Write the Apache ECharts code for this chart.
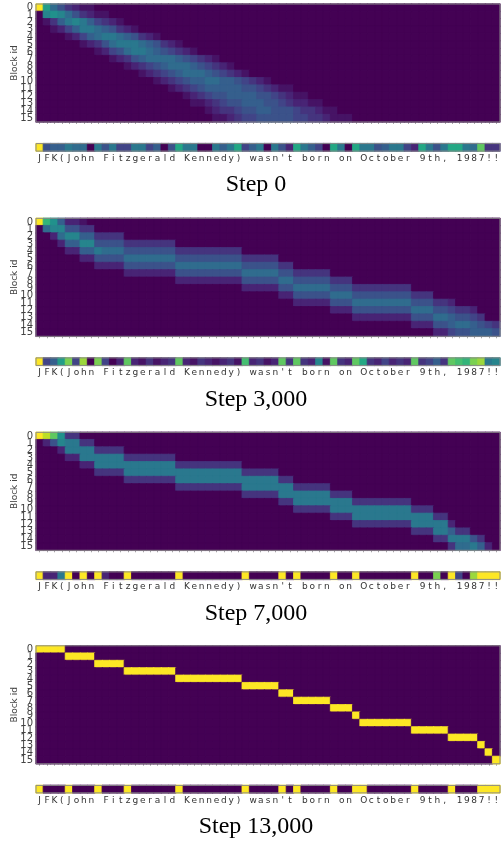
<!DOCTYPE html>
<html><head><meta charset="utf-8">
<script src="https://cdn.jsdelivr.net/npm/echarts@6/dist/echarts.min.js"></script>
<style>html,body{margin:0;padding:0;background:#fff}#c{width:501px;height:843px}</style>
</head><body><div id="c"></div>
<script>
// ---- data (cell values coded 0..k in base 36, value = code/20; spaces only group 9 columns) ----
const sentence = "JFK(John Fitzgerald Kennedy) wasn't born on October 9th, 1987!!";
const chars = sentence.split('');
const blockIds = ['0','1','2','3','4','5','6','7','8','9','10','11','12','13','14','15'];
const stepTitles = ['Step 0', 'Step 3,000', 'Step 7,000', 'Step 13,000'];

const step0Rows = [
  "kb7532110 000000000 000000000 000000000 000000000 000000000 000000000",
  "09a975321 100000000 000000000 000000000 000000000 000000000 000000000",
  "013689864 321000000 000000000 000000000 000000000 000000000 000000000",
  "001246887 653210000 000000000 000000000 000000000 000000000 000000000",
  "000012467 887653210 000000000 000000000 000000000 000000000 000000000",
  "000000123 578887653 210000000 000000000 000000000 000000000 000000000",
  "000000001 245788765 432100000 000000000 000000000 000000000 000000000",
  "000000000 012356777 765432100 000000000 000000000 000000000 000000000",
  "000000000 000123456 777654321 000000000 000000000 000000000 000000000",
  "000000000 000001234 567776543 210000000 000000000 000000000 000000000",
  "000000000 000000012 345667766 543210000 000000000 000000000 000000000",
  "000000000 000000000 123456666 655432110 000000000 000000000 000000000",
  "000000000 000000000 001234556 666554321 100000000 000000000 000000000",
  "000000000 000000000 000112345 566655432 211000000 000000000 000000000",
  "000000000 000000000 000001233 455665554 332110000 000000000 000000000",
  "000000000 000000000 000000112 344555554 433211100 000000000 000000000"
];
const step0Strip = "k56687708 584488460 5c8800868 c4680852c 8640c80c8 8568842c8 58cc87f33";

const step3kRows = [
  "kda622100 000000000 000000000 000000000 000000000 000000000 000000000",
  "079955330 000000000 000000000 000000000 000000000 000000000 000000000",
  "002799663 333000000 000000000 000000000 000000000 000000000 000000000",
  "000266995 555333333 300000000 000000000 000000000 000000000 000000000",
  "000022668 777555555 533333333 300000000 000000000 000000000 000000000",
  "000000225 555777777 755555555 533333000 000000000 000000000 000000000",
  "000000002 222555555 577777777 755555330 000000000 000000000 000000000",
  "000000000 000222222 255555555 577777553 333300000 000000000 000000000",
  "000000000 000000000 022222222 255555775 555533300 000000000 000000000",
  "000000000 000000000 000000000 022222557 777755533 333333000 000000000",
  "000000000 000000000 000000000 000000225 555577755 555555333 000000000",
  "000000000 000000000 000000000 000000002 222255577 777777555 332000000",
  "000000000 000000000 000000000 000000000 000022255 555555777 554332000",
  "000000000 000000000 000000000 000000000 000000022 222222555 776554300",
  "000000000 000000000 000000000 000000000 000000000 000000222 556776543",
  "000000000 000000000 000000000 000000000 000000000 000000000 224556665"
];
const step3kStrip = "k46bg4h0g 402f21312 3f2132123 1e2312f3f 3291f32fc 324232f34 63fedgh89";

const step7kRows = [
  "kifa33000 000000000 000000000 000000000 000000000 000000000 000000000",
  "025988330 000000000 000000000 000000000 000000000 000000000 000000000",
  "000288883 333000000 000000000 000000000 000000000 000000000 000000000",
  "000022888 888333333 300000000 000000000 000000000 000000000 000000000",
  "000000228 888888888 833333333 300000000 000000000 000000000 000000000",
  "000000003 333888888 888888888 833333000 000000000 000000000 000000000",
  "000000000 000333333 388888888 888888330 000000000 000000000 000000000",
  "000000000 000000000 033333333 388888883 333300000 000000000 000000000",
  "000000000 000000000 000000000 033333888 888833300 000000000 000000000",
  "000000000 000000000 000000000 000000338 888888833 333333000 000000000",
  "000000000 000000000 000000000 000000003 333388888 888888333 000000000",
  "000000000 000000000 000000000 000000000 000033388 888888888 330000000",
  "000000000 000000000 000000000 000000000 000000033 333333888 882000000",
  "000000000 000000000 000000000 000000000 000000000 000000333 886330000",
  "000000000 000000000 000000000 000000000 000000000 000000000 338885300",
  "000000000 000000000 000000000 000000000 000000000 000000000 003778620"
];
const step7kStrip = "k228k0k0k 200k00000 0k0000000 0k0000k0k 0000k00k0 000000k00 g0k40hkkk";

const step13kRows = [
  "kkkk00000 000000000 000000000 000000000 000000000 000000000 000000000",
  "0000kkkk0 000000000 000000000 000000000 000000000 000000000 000000000",
  "00000000k kkk000000 000000000 000000000 000000000 000000000 000000000",
  "000000000 000kkkkkk k00000000 000000000 000000000 000000000 000000000",
  "000000000 000000000 0kkkkkkkk k00000000 000000000 000000000 000000000",
  "000000000 000000000 000000000 0kkkkk000 000000000 000000000 000000000",
  "000000000 000000000 000000000 000000kk0 000000000 000000000 000000000",
  "000000000 000000000 000000000 00000000k kkkk00000 000000000 000000000",
  "000000000 000000000 000000000 000000000 0000kkk00 000000000 000000000",
  "000000000 000000000 000000000 000000000 0000000k0 000000000 000000000",
  "000000000 000000000 000000000 000000000 00000000k kkkkkk000 000000000",
  "000000000 000000000 000000000 000000000 000000000 000000kkk kk0000000",
  "000000000 000000000 000000000 000000000 000000000 000000000 00kkkk000",
  "000000000 000000000 000000000 000000000 000000000 000000000 000000k00",
  "000000000 000000000 000000000 000000000 000000000 000000000 0000000k0",
  "000000000 000000000 000000000 000000000 000000000 000000000 00000000k"
];
const step13kStrip = "k000k000k 000k00000 0k0000000 0k0000k0k 0000k00kk 000000k00 00k000kkk";

const viridis = ['#440154','#482475','#414487','#355f8d','#2a788e','#21918c','#22a884','#44bf70','#7ad151','#bddf26','#fde725'];

// ---- build ----
function decode(s) { return s.replace(/ /g, '').split('').map(ch => parseInt(ch, 36) / 20); }
function cell(x, y, v) {
  // same colour as the visualMap gives, used only for a hairline edge that hides anti-alias seams
  return { value: [x, y, v], itemStyle: { borderColor: echarts.color.lerp(v, viridis), borderWidth: 0.8 } };
}
const panels = [
  { rows: step0Rows, strip: step0Strip },
  { rows: step3kRows, strip: step3kStrip },
  { rows: step7kRows, strip: step7kStrip },
  { rows: step13kRows, strip: step13kStrip }
];
const panelTop = [4, 218.3, 432.3, 645.8];
const heatH = 118, stripOff = 139.6, stripH = 7.5;

const grids = [], xAxes = [], yAxes = [], series = [], graphics = [];
const noSplit = { show: false };
panels.forEach((p, k) => {
  const t = panelTop[k];
  const gi = grids.length;
  const gBase = { left: 36, width: 464, show: true, borderColor: '#8a8a8a', borderWidth: 1, backgroundColor: 'transparent', z: 10, containLabel: false, outerBoundsMode: 'none' };
  grids.push(Object.assign({ top: t, height: heatH }, gBase));
  grids.push(Object.assign({ top: t + stripOff, height: stripH }, gBase));
  xAxes.push({ type: 'category', gridIndex: gi, data: chars, axisLine: { show: false }, splitLine: noSplit, splitArea: noSplit,
    axisTick: { show: true, alignWithLabel: true, interval: 0, length: 2, lineStyle: { color: '#aaa' } },
    axisLabel: { show: false } });
  xAxes.push({ type: 'category', gridIndex: gi + 1, data: chars, axisLine: { show: false }, axisTick: { show: false }, splitLine: noSplit, splitArea: noSplit,
    axisLabel: { interval: 0, fontSize: 9, color: '#333', margin: 3, fontFamily: 'DejaVu Sans' } });
  yAxes.push({ type: 'category', gridIndex: gi, data: blockIds, inverse: true, axisLine: { show: false }, axisTick: { show: false },
    splitLine: noSplit, splitArea: noSplit,
    axisLabel: { interval: 0, fontSize: 10, color: '#444', margin: 3, fontFamily: 'DejaVu Sans' },
    name: 'Block id', nameLocation: 'middle', nameGap: 16.5, nameRotate: 90, nameMoveOverlap: false,
    nameTextStyle: { fontSize: 9, color: '#444', fontFamily: 'DejaVu Sans' } });
  yAxes.push({ type: 'category', gridIndex: gi + 1, data: ['s'], axisLine: { show: false }, axisTick: { show: false }, axisLabel: { show: false },
    splitLine: noSplit, splitArea: noSplit });
  const hd = [];
  p.rows.forEach((r, y) => decode(r).forEach((v, x) => hd.push(cell(x, y, v))));
  const sd = decode(p.strip).map((v, x) => cell(x, 0, v));
  const common = { type: 'heatmap', emphasis: { disabled: true }, progressive: 0 };
  series.push(Object.assign({ xAxisIndex: gi, yAxisIndex: gi, data: hd }, common));
  series.push(Object.assign({ xAxisIndex: gi + 1, yAxisIndex: gi + 1, data: sd }, common));
  graphics.push({ type: 'text', x: 256, y: t + 181,
    style: { text: stepTitles[k], fill: '#000', font: '24px "Liberation Serif"', align: 'center', verticalAlign: 'middle' } });
});

const chart = echarts.init(document.getElementById('c'), null, { renderer: 'canvas' });
chart.setOption({
  animation: false,
  grid: grids, xAxis: xAxes, yAxis: yAxes, series: series, graphic: graphics,
  visualMap: { type: 'continuous', min: 0, max: 1, show: false, seriesIndex: series.map((_, i) => i), inRange: { color: viridis } }
});
</script></body></html>
